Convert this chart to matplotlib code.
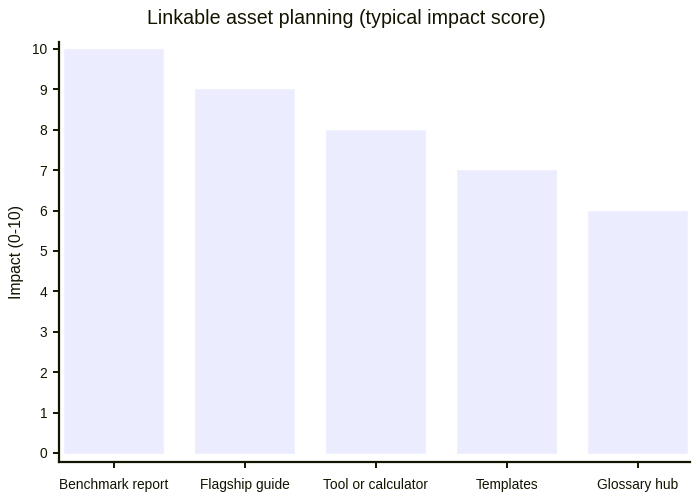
import matplotlib
matplotlib.use("Agg")
import matplotlib.pyplot as plt

# данные графика
categories = ["Benchmark report", "Flagship guide", "Tool or calculator", "Templates", "Glossary hub"]
impact = [10, 9, 8, 7, 6]
y_ticks = list(range(0, 11))

axis_color = "#131300"
bar_color = "#ECECFF"

plt.rcParams["font.family"] = ["Liberation Sans", "DejaVu Sans"]

fig = plt.figure(figsize=(7, 5), dpi=100)
ax = fig.add_axes([59 / 700, 1 - 462 / 500, 631 / 700, 420 / 500])

x = list(range(len(categories)))
ax.bar(x, impact, width=0.755, color=bar_color, edgecolor="#F0F0FF", linewidth=0.8)

ax.set_xlim(-0.416, 4.40)
ax.set_ylim(-0.223, 10.17)
ax.set_xticks(x)
ax.set_xticklabels(categories, fontsize=9.9, color=axis_color)
ax.set_yticks(y_ticks)
ax.set_yticklabels([str(v) for v in y_ticks], fontsize=9.9, color=axis_color)

for side in ["top", "right"]:
    ax.spines[side].set_visible(False)
for side in ["left", "bottom"]:
    ax.spines[side].set_color(axis_color)
    ax.spines[side].set_linewidth(1.6)

ax.tick_params(axis="both", colors=axis_color, length=4.5, width=1.4)
ax.tick_params(axis="x", labelcolor=axis_color, pad=7)
ax.tick_params(axis="y", labelcolor=axis_color, pad=4)

ax.set_ylabel("Impact (0-10)", fontsize=11.3, color=axis_color, labelpad=6)
fig.text(346 / 700, 1 - 19 / 500, "Linkable asset planning (typical impact score)",
         ha="center", va="center", fontsize=14.1, color=axis_color)

fig.savefig("out.png", dpi=100)
